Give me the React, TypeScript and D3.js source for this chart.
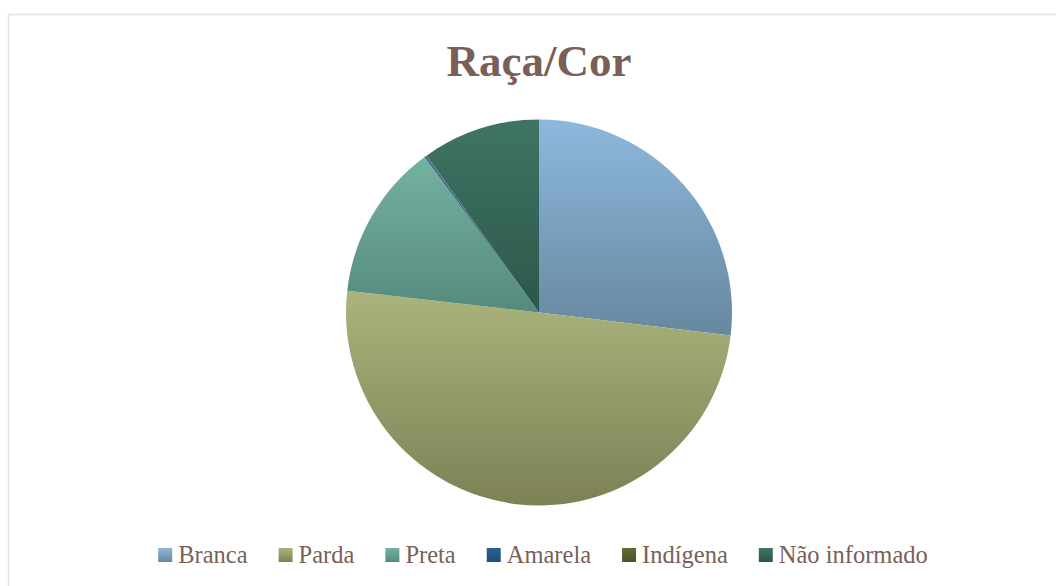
import React, { useEffect, useRef } from "react";
import * as d3 from "d3";

const categories = ["Branca", "Parda", "Preta", "Amarela", "Indígena", "Não informado"];
const values = [26.9, 49.9, 13.1, 0.15, 0.05, 9.9];
const topColors = ["#8db8dd", "#aab47c", "#74b2a1", "#2c5f94", "#606b34", "#3f7464"];
const bottomColors = ["#67889f", "#7d8156", "#558a7d", "#224d78", "#4a5328", "#2c574b"];
const title = "Raça/Cor";

const W = 1056;
const H = 586;
const FONT = "'Liberation Serif', 'DejaVu Serif', serif";
const TEXT_COLOR = "#7a5f57";

export default function App() {
  const ref = useRef<SVGSVGElement>(null);
  useEffect(() => {
    const svg = d3.select(ref.current);
    svg.selectAll("*").remove();

    svg.append("rect").attr("x", 0).attr("y", 0).attr("width", W).attr("height", H).attr("fill", "#ffffff");
    svg.append("rect").attr("x", 8.5).attr("y", 14.5).attr("width", W + 20).attr("height", H + 20)
      .attr("fill", "none").attr("stroke", "#e8e0df").attr("stroke-width", 1.5);

    const defs = svg.append("defs");
    categories.forEach((c, i) => {
      const g = defs.append("linearGradient").attr("id", "grad" + i)
        .attr("x1", 0).attr("y1", 0).attr("x2", 0).attr("y2", 1);
      g.append("stop").attr("offset", "0%").attr("stop-color", topColors[i]);
      g.append("stop").attr("offset", "100%").attr("stop-color", bottomColors[i]);
    });

    svg.append("text").attr("x", 539).attr("y", 76).attr("text-anchor", "middle")
      .attr("font-family", FONT).attr("font-weight", "bold").attr("font-size", 45)
      .attr("fill", TEXT_COLOR).text(title);

    const cx = 539, cy = 312.5, r = 193;
    const pie = d3.pie<number>().sort(null).value((d) => d);
    const arc = d3.arc<d3.PieArcDatum<number>>().innerRadius(0).outerRadius(r);
    const g = svg.append("g").attr("transform", `translate(${cx},${cy})`);
    g.selectAll("path").data(pie(values)).enter().append("path")
      .attr("d", arc as any)
      .attr("fill", (_d, i) => `url(#grad${i})`);

    // legend
    const lg = svg.append("g");
    const fontSize = 24.5;
    const sq = 14;
    const gap = 6;
    const itemGap = 31;
    const items = lg.selectAll("g.item").data(categories).enter().append("g").attr("class", "item");
    items.append("rect").attr("width", sq).attr("height", sq).attr("y", -sq - 1)
      .attr("fill", (_d, i) => `url(#grad${i})`);
    items.append("text").attr("x", sq + gap).attr("y", 0)
      .attr("font-family", FONT).attr("font-size", fontSize).attr("fill", TEXT_COLOR)
      .text((d) => d);
    const widths: number[] = [];
    items.each(function () {
      const t = d3.select(this).select("text").node() as SVGTextElement;
      widths.push(sq + gap + t.getComputedTextLength());
    });
    const total = d3.sum(widths) + itemGap * (widths.length - 1);
    let x = 543 - total / 2;
    items.attr("transform", (_d, i) => {
      const tx = x;
      x += widths[i] + itemGap;
      return `translate(${tx},563)`;
    });
  }, []);
  return (
    <svg ref={ref} width={W} height={H} style={{ position: "absolute", left: 0, top: 0 }} />
  );
}
